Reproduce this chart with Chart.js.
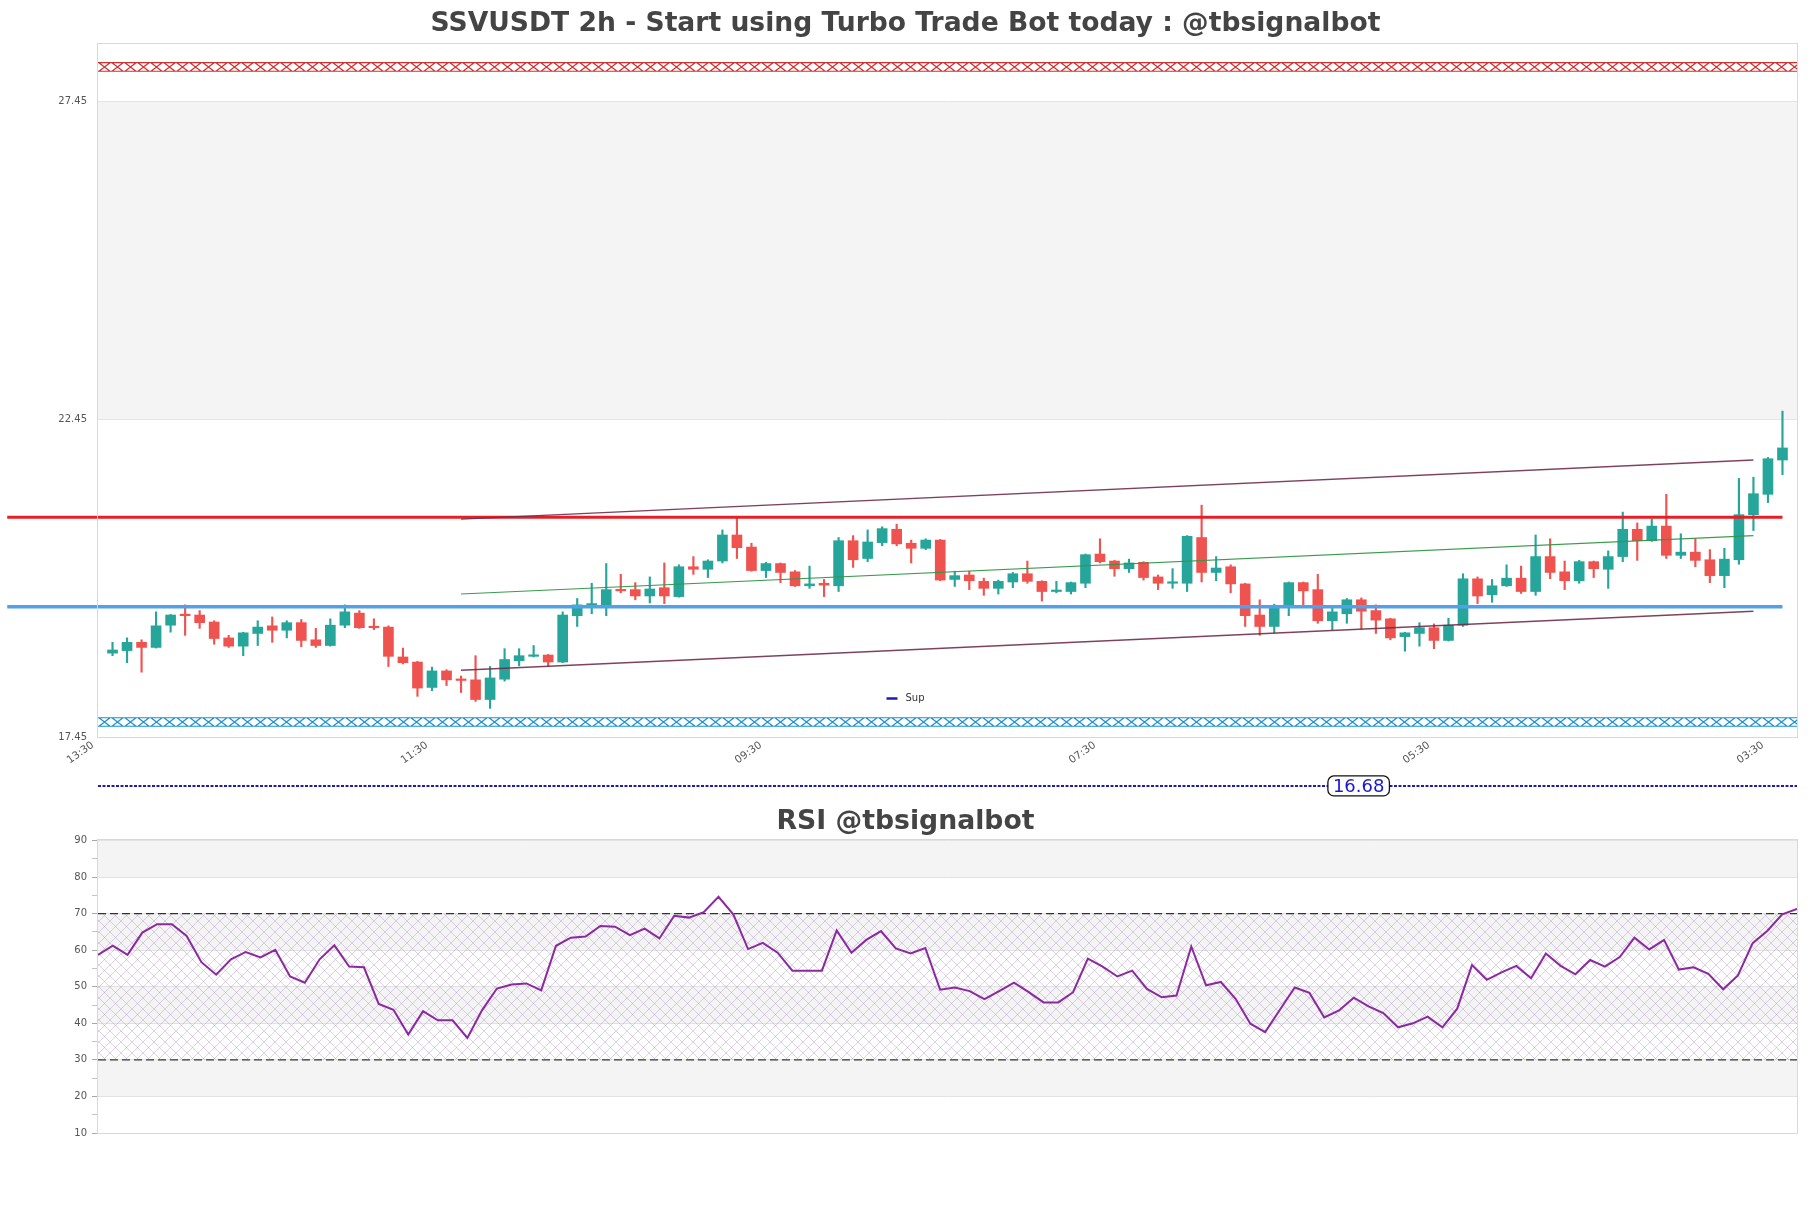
<!DOCTYPE html>
<html><head><meta charset="utf-8">
<script src="https://cdn.jsdelivr.net/npm/chart.js@4.4.1/dist/chart.umd.min.js"></script>
<style>
html,body{margin:0;padding:0;background:#fff;width:1811px;height:1208px;overflow:hidden;}
canvas{position:absolute;left:0;}
#main{top:0;}
#rsi{top:800px;}
</style></head><body>
<canvas id="main" width="1811" height="800"></canvas>
<canvas id="rsi" width="1811" height="408"></canvas>
<script>
// ---------- data ----------
const timeLabels = ['13:30','11:30','09:30','07:30','05:30','03:30'];
const labelIndex = [-1, 22, 45, 68, 91, 114];
const opens = [18.77,18.81,18.94,18.86,19.21,19.37,19.37,19.26,19.01,18.88,19.08,19.20,19.13,19.25,18.98,18.89,19.21,19.40,19.18,19.18,
18.71,18.63,18.23,18.49,18.35,18.35,18.04,18.36,18.65,18.72,18.74,18.63,19.36,19.52,19.50,19.77,19.77,19.67,19.80,19.66,
20.13,20.09,20.22,20.63,20.44,20.07,20.18,20.05,19.83,19.87,19.83,20.54,20.26,20.51,20.72,20.50,20.42,20.55,19.93,20.00,
19.90,19.79,19.89,20.02,19.90,19.74,19.74,19.87,20.33,20.22,20.10,20.20,19.97,19.87,19.87,20.59,20.04,20.13,19.86,19.37,
19.19,19.50,19.88,19.77,19.28,19.39,19.61,19.44,19.31,19.03,19.08,19.17,18.97,19.21,19.94,19.69,19.83,19.95,19.74,20.29,
20.05,19.91,20.21,20.09,20.29,20.72,20.54,20.77,20.31,20.36,20.24,19.99,20.24,20.95,21.27,21.81];
const highs = [18.94,19.01,18.98,19.42,19.38,19.53,19.44,19.28,19.05,19.10,19.28,19.34,19.28,19.30,19.16,19.31,19.53,19.44,19.31,19.20,
18.85,18.64,18.55,18.51,18.41,18.73,18.56,18.84,18.84,18.89,18.75,19.42,19.63,19.87,20.18,20.01,19.88,19.97,20.19,20.16,
20.29,20.24,20.71,20.92,20.50,20.20,20.19,20.07,20.14,19.93,20.59,20.62,20.71,20.76,20.80,20.55,20.57,20.56,20.06,20.06,
19.95,19.92,20.04,20.22,19.91,19.90,19.89,20.33,20.57,20.23,20.25,20.21,20.00,20.10,20.62,21.10,20.29,20.16,19.87,19.61,
19.54,19.89,19.89,20.01,19.50,19.63,19.64,19.53,19.32,19.10,19.25,19.23,19.32,20.02,19.97,19.93,20.16,20.14,20.63,20.57,
20.22,20.23,20.22,20.38,20.99,20.82,20.88,21.27,20.65,20.57,20.40,20.42,21.52,21.54,21.85,22.58];
const lows = [18.73,18.62,18.47,18.85,19.10,19.05,19.16,18.91,18.86,18.73,18.89,18.94,19.01,18.87,18.86,18.88,19.17,19.16,19.14,18.56,
18.60,18.09,18.18,18.26,18.15,18.01,17.90,18.33,18.57,18.71,18.56,18.62,19.19,19.39,19.36,19.72,19.61,19.56,19.55,19.65,
20.01,19.96,20.19,20.26,20.06,19.96,19.88,19.82,19.79,19.66,19.74,20.12,20.21,20.46,20.46,20.19,20.40,19.91,19.82,19.77,
19.68,19.70,19.80,19.87,19.59,19.72,19.70,19.80,20.19,19.98,20.04,19.92,19.77,19.79,19.74,19.89,19.91,19.72,19.19,19.05,
19.09,19.36,19.52,19.24,19.14,19.24,19.15,19.08,18.98,18.80,18.88,18.84,18.96,19.19,19.55,19.57,19.82,19.71,19.68,19.94,
19.77,19.87,19.96,19.79,20.21,20.23,20.53,20.26,20.26,20.13,19.88,19.80,20.17,20.70,21.14,21.58];
const closes = [18.82,18.94,18.86,19.20,19.37,19.36,19.25,19.00,18.88,19.09,19.18,19.13,19.25,18.97,18.89,19.21,19.42,19.17,19.17,18.72,
18.62,18.22,18.49,18.35,18.34,18.04,18.38,18.67,18.73,18.74,18.63,19.37,19.53,19.55,19.77,19.75,19.67,19.78,19.67,20.13,
20.09,20.22,20.63,20.43,20.07,20.18,20.04,19.83,19.86,19.84,20.54,20.24,20.52,20.73,20.49,20.42,20.55,19.92,19.99,19.91,
19.79,19.90,20.02,19.90,19.74,19.75,19.88,20.32,20.21,20.10,20.19,19.96,19.87,19.89,20.61,20.04,20.11,19.86,19.36,19.19,
19.52,19.88,19.75,19.28,19.42,19.61,19.43,19.29,19.01,19.09,19.17,18.97,19.21,19.94,19.67,19.83,19.95,19.74,20.29,20.04,
19.91,20.21,20.10,20.29,20.72,20.54,20.77,20.31,20.36,20.23,19.99,20.25,20.95,21.28,21.83,22.00];
const rsiValues = [58.7,61.2,58.7,64.8,67.1,67.1,63.9,56.7,53.3,57.5,
59.5,58.0,60.1,52.8,51.1,57.5,61.3,55.5,55.3,45.3,
43.7,36.9,43.3,40.8,40.8,36.0,43.6,49.5,50.6,50.9,
49.0,61.2,63.4,63.7,66.6,66.4,64.1,65.9,63.2,69.4,
68.9,70.4,74.6,69.8,60.3,62.0,59.3,54.4,54.4,54.4,
65.4,59.3,62.8,65.2,60.5,59.1,60.6,49.2,49.8,48.8,
46.6,48.8,51.1,48.5,45.7,45.7,48.5,57.7,55.5,52.8,
54.4,49.4,47.1,47.6,61.0,50.4,51.3,46.7,39.9,37.6,
43.7,49.8,48.3,41.6,43.5,47.0,44.6,42.8,38.9,40.0,
41.8,38.9,44.0,55.9,51.9,53.9,55.7,52.3,59.1,55.7,
53.4,57.3,55.5,58.1,63.4,60.2,62.8,54.7,55.3,53.5,
49.3,53.1,61.9,65.3,69.8,71.3];
const resistanceLevel = 20.91;
const supportLevel = 19.50;
const levelSpan = [-7.25, 115];
const channelX = [24, 113];
const channelUpper = [20.88, 21.81];
const channelMid = [19.70, 20.62];
const channelLower = [18.50, 19.43];
const topZone = [27.92, 28.08];
const bottomZone = [17.61, 17.76];
const supLevel = 16.68;
const yTicks = [17.45, 22.45, 27.45];
const yRange = [17.45, 28.36];
const xRange = [-1, 116];
const rsiRange = [10, 90];
const rsiBounds = [30, 70];

// ---------- styling ----------
Chart.defaults.font.family = 'DejaVu Sans';
Chart.defaults.animation = false;
const UP = '#26a69a', DOWN = '#ef5350';
const candleColors = closes.map((c, i) => c >= opens[i] ? UP : DOWN);

function zonePattern(color) {
  return (ctx) => {
    const chart = ctx.chart;
    const ys = chart.scales && chart.scales.y;
    const ds = ctx.dataset;
    if (!ys || !chart.chartArea || !ds) return 'rgba(0,0,0,0)';
    const yTop = ys.getPixelForValue(ds.zone[1]);
    const yBot = ys.getPixelForValue(ds.zone[0]);
    const h = Math.max(4, Math.round(yBot - yTop));
    const w = 13;
    const c = document.createElement('canvas');
    c.width = w; c.height = h;
    const g = c.getContext('2d');
    g.strokeStyle = color; g.lineWidth = 1.3;
    g.beginPath();
    g.moveTo(0, 0.7); g.lineTo(w, 0.7);
    g.moveTo(0, h - 0.7); g.lineTo(w, h - 0.7);
    g.moveTo(0, 0); g.lineTo(w, h);
    g.moveTo(0, h); g.lineTo(w, 0);
    g.stroke();
    const p = chart.ctx.createPattern(c, 'repeat-x');
    p.setTransform(new DOMMatrix([1, 0, 0, 1, chart.chartArea.left, Math.round(yTop)]));
    return p;
  };
}

function bands(chart, boundaries) {
  const {ctx, chartArea: a, scales: {y}} = chart;
  const b = [...new Set(boundaries)].sort((p, q) => p - q);
  ctx.save();
  ctx.fillStyle = '#fff';
  ctx.fillRect(a.left, a.top, a.right - a.left, a.bottom - a.top);
  ctx.fillStyle = '#f4f4f4';
  for (let k = 0; k < b.length - 1; k++) {
    if (k % 2 === 1) {
      const y1 = y.getPixelForValue(b[k + 1]);
      const y0 = y.getPixelForValue(b[k]);
      ctx.fillRect(a.left, y1, a.right - a.left, y0 - y1);
    }
  }
  ctx.restore();
}
function border(chart) {
  const {ctx, chartArea: a} = chart;
  ctx.save();
  ctx.strokeStyle = '#d9d9d9'; ctx.lineWidth = 1;
  ctx.strokeRect(Math.round(a.left) - 0.5, Math.round(a.top) - 0.5, Math.round(a.right - a.left) + 1, Math.round(a.bottom - a.top) + 1);
  ctx.restore();
}

const mainDeco = {
  id: 'mainDeco',
  beforeDraw(chart) { bands(chart, [yRange[0], ...yTicks, yRange[1]]); },
  afterDatasetsDraw(chart) {
    const {ctx, chartArea: a, scales: {y}} = chart;
    const yp = y.getPixelForValue(supLevel);
    const xp = a.left + (a.right - a.left) * 0.742;
    const text = supLevel.toFixed(2);
    ctx.save();
    ctx.font = '18px "DejaVu Sans"';
    const w = ctx.measureText(text).width + 10, h = 20;
    ctx.beginPath();
    ctx.roundRect(xp - w / 2, yp - h / 2, w, h, 6);
    ctx.fillStyle = '#fff'; ctx.fill();
    ctx.strokeStyle = '#111'; ctx.lineWidth = 1.3; ctx.stroke();
    ctx.fillStyle = '#1818d0'; ctx.textAlign = 'center'; ctx.textBaseline = 'middle';
    ctx.fillText(text, xp, yp + 1);
    ctx.restore();
  },
  afterDraw(chart) {
    border(chart);
    const ds = chart.data.datasets.find(d => d.label === 'Sup');
    const {ctx, chartArea: a} = chart;
    ctx.save();
    ctx.font = '10px "DejaVu Sans"';
    const tw = ctx.measureText(ds.label).width;
    const bw = 11, gap = 8, total = bw + gap + tw;
    const x0 = chart.width / 2 - total / 2;
    const yy = a.bottom - 39;
    ctx.strokeStyle = ds.borderColor; ctx.lineWidth = 2.5;
    ctx.beginPath(); ctx.moveTo(x0, yy + 0.5); ctx.lineTo(x0 + bw, yy + 0.5); ctx.stroke();
    ctx.fillStyle = '#333'; ctx.textBaseline = 'middle'; ctx.textAlign = 'left';
    ctx.fillText(ds.label, x0 + bw + gap, yy);
    ctx.restore();
  }
};

const lineDs = (label, xs, ys, color, width, extra) => Object.assign({
  type: 'line', label, data: xs.map((x, i) => ({x, y: ys[i]})),
  borderColor: color, borderWidth: width, pointRadius: 0, fill: false, tension: 0, order: 0
}, extra || {});

new Chart(document.getElementById('main'), {
  type: 'bar',
  data: {
    datasets: [
      { type: 'bar', label: 'wick', data: highs.map((h, i) => ({x: i, y: [lows[i], h]})),
        backgroundColor: candleColors, barThickness: 1.5, grouped: false, order: 3 },
      { type: 'bar', label: 'body', data: opens.map((o, i) => ({x: i, y: [o, closes[i]]})),
        backgroundColor: candleColors, barThickness: 10, minBarLength: 1.5, grouped: false, order: 2 },
      lineDs('topZone', xRange, [topZone[1], topZone[1]], 'rgba(0,0,0,0)', 0,
        { zone: topZone, fill: {value: topZone[0]}, backgroundColor: zonePattern('#d22f2f'), order: 4 }),
      lineDs('bottomZone', xRange, [bottomZone[1], bottomZone[1]], 'rgba(0,0,0,0)', 0,
        { zone: bottomZone, fill: {value: bottomZone[0]}, backgroundColor: zonePattern('#1a90cc'), order: 4 }),
      lineDs('upper', channelX, channelUpper, 'rgba(112,45,75,0.9)', 1.4),
      lineDs('mid', channelX, channelMid, 'rgba(50,150,70,0.95)', 1.1),
      lineDs('lower', channelX, channelLower, 'rgba(112,45,75,0.9)', 1.4),
      lineDs('resistance', levelSpan, [resistanceLevel, resistanceLevel], '#e61e26', 3, { clip: false }),
      lineDs('support', levelSpan, [supportLevel, supportLevel], '#52a0ea', 3.5, { clip: false }),
      lineDs('Sup', xRange, [supLevel, supLevel], '#1c1cb4', 2, { clip: false, borderDash: [3, 1.5] })
    ]
  },
  options: {
    responsive: false,
    animation: false,
    layout: { padding: { left: 14, right: 14, top: 0, bottom: 0 } },
    plugins: {
      legend: { display: false },
      tooltip: { enabled: false },
      title: { display: true, text: 'SSVUSDT 2h - Start using Turbo Trade Bot today : @tbsignalbot',
        font: { family: 'DejaVu Sans', size: 26.6, weight: 'bold' }, color: '#444', padding: { top: 8.2, bottom: 3.8 } }
    },
    scales: {
      x: {
        type: 'linear', min: xRange[0], max: xRange[1], offset: false,
        afterBuildTicks: s => { s.ticks = labelIndex.map(v => ({value: v})); },
        afterFit: s => { s.height = 63; },
        ticks: { callback: (v, i) => timeLabels[i], minRotation: 35, maxRotation: 35, autoSkip: false,
          font: { size: 10.5 }, color: '#555', padding: 2, labelOffset: -5 },
        grid: { display: false, drawTicks: false },
        border: { display: false }
      },
      y: {
        type: 'linear', min: yRange[0], max: yRange[1],
        afterBuildTicks: s => { s.ticks = yTicks.map(v => ({value: v})); },
        afterFit: s => { s.width = 84; },
        ticks: { callback: v => Number(v).toFixed(2), font: { size: 10 }, color: '#555', padding: 11 },
        grid: { color: '#e4e4e4', drawTicks: false },
        border: { display: false }
      }
    }
  },
  plugins: [mainDeco]
});

// ---------- RSI ----------
const rsiHatch = (() => {
  const s = 11;
  const c = document.createElement('canvas');
  c.width = s; c.height = s;
  const g = c.getContext('2d');
  g.strokeStyle = 'rgba(165,140,190,0.38)'; g.lineWidth = 1;
  g.beginPath();
  g.moveTo(0, 0); g.lineTo(s, s);
  g.moveTo(0, s); g.lineTo(s, 0);
  g.stroke();
  return document.getElementById('rsi').getContext('2d').createPattern(c, 'repeat');
})();

const rsiDeco = {
  id: 'rsiDeco',
  beforeDraw(chart) {
    const b = [];
    for (let v = rsiRange[0]; v <= rsiRange[1]; v += 10) b.push(v);
    bands(chart, b);
  },
  afterDraw(chart) { border(chart); }
};

new Chart(document.getElementById('rsi'), {
  type: 'line',
  data: {
    datasets: [
      { label: 'RSI', data: rsiValues.map((v, i) => ({x: i, y: v})), borderColor: 'rgb(140,40,160)',
        borderWidth: 2, pointRadius: 0, tension: 0, fill: false, order: 0 },
      { label: 'ob', data: [{x: 0, y: rsiBounds[1]}, {x: rsiValues.length - 1, y: rsiBounds[1]}],
        borderColor: '#333', borderWidth: 1.3, borderDash: [8, 4], pointRadius: 0,
        fill: { value: rsiBounds[0] }, backgroundColor: rsiHatch, order: 1 },
      { label: 'os', data: [{x: 0, y: rsiBounds[0]}, {x: rsiValues.length - 1, y: rsiBounds[0]}],
        borderColor: '#333', borderWidth: 1.3, borderDash: [8, 4], pointRadius: 0, fill: false, order: 1 }
    ]
  },
  options: {
    responsive: false,
    animation: false,
    layout: { padding: { left: 14, right: 14, top: 0, bottom: 75 } },
    plugins: {
      legend: { display: false },
      tooltip: { enabled: false },
      title: { display: true, text: 'RSI @tbsignalbot',
        font: { family: 'DejaVu Sans', size: 26.7, weight: 'bold' }, color: '#444', padding: { top: 6.2, bottom: 2.2 } }
    },
    scales: {
      x: { type: 'linear', min: 0, max: rsiValues.length - 1, display: false },
      y: {
        min: rsiRange[0], max: rsiRange[1],
        afterFit: s => { s.width = 84; },
        ticks: { stepSize: 5, autoSkip: false, callback: v => (v % 10 === 0 ? String(v) : ''),
          font: { size: 10 }, color: '#555', padding: 5 },
        grid: {
          color: c => (c.tick && c.tick.value % 10 === 0) ? '#e2e2e2' : 'rgba(0,0,0,0)',
          tickColor: c => (c.tick && c.tick.value % 10 === 0) ? '#aaa' : '#c4c4c4',
          tickLength: 6
        },
        border: { display: false }
      }
    }
  },
  plugins: [rsiDeco]
});
</script>
</body></html>
